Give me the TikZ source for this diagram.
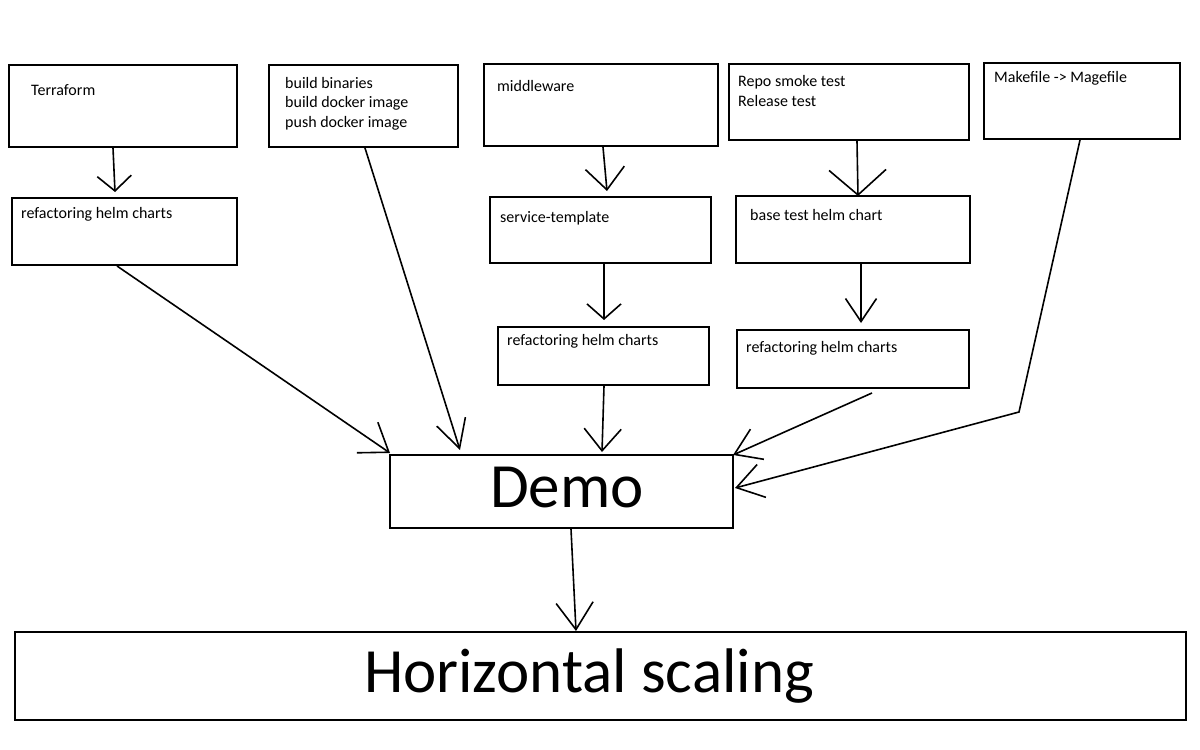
\documentclass[tikz,border=0pt]{standalone}
\usepackage{fontspec}
\setmainfont{Carlito}
\usetikzlibrary{arrows.meta,calc}
\begin{document}
\begin{tikzpicture}[x=1bp,y=-1bp,
  box/.style={draw, line width=2bp, rectangle, inner sep=0pt, anchor=north west},
  txt/.style={inner sep=0pt, anchor=base west, font=\fontsize{16bp}{19.5bp}\selectfont},
  bigtxt/.style={inner sep=0pt, anchor=base, font=\fontsize{63bp}{75bp}\selectfont},
  conn/.style={line width=1.6bp},
  vhead/.style 2 args={conn, -{Straight Barb[length=#1bp,width=#2bp]}}]
\fill[white] (0,0) rectangle (1200,750);
\useasboundingbox (0,0) rectangle (1200,750);

% boxes
\node[box, minimum width=228bp, minimum height=82bp] (t) at (8,64) {};
\node[box, minimum width=189bp, minimum height=82bp] (b) at (268,64) {};
\node[box, minimum width=234bp, minimum height=82bp] (m) at (483,63) {};
\node[box, minimum width=240bp, minimum height=76bp] (r) at (728,63) {};
\node[box, minimum width=196bp, minimum height=76bp] (mk) at (983,62) {};
\node[box, minimum width=225bp, minimum height=67bp] (rh1) at (11,197) {};
\node[box, minimum width=221bp, minimum height=66bp] (st) at (489,196) {};
\node[box, minimum width=234bp, minimum height=67bp] (bt) at (735,195) {};
\node[box, minimum width=211bp, minimum height=58bp] (rh2) at (497,326) {};
\node[box, minimum width=232bp, minimum height=58bp] (rh3) at (736,329) {};
\node[box, minimum width=343bp, minimum height=73bp] (d) at (389,454) {};
\node[box, minimum width=1171bp, minimum height=88bp] (hs) at (14,631) {};

% texts
\node[txt] (tt) at (31,96) {Terraform};
\node[txt] (b1) at (285,89) {build binaries};
\node[txt] (b2) at (285,108) {build docker image};
\node[txt] (b3) at (285,127) {push docker image};
\node[txt] (mt) at (497,92) {middleware};
\node[txt] (r1) at (738,87) {Repo smoke test};
\node[txt] (r2) at (738,107) {Release test};
\node[txt] (mkt) at (994,83) {Makefile -> Magefile};
\node[txt] (rh1t) at (21,218) {refactoring helm charts};
\node[txt] (stt) at (500,222) {service-template};
\node[txt] (btt) at (750,220) {base test helm chart};
\node[txt] (rh2t) at (507,345) {refactoring helm charts};
\node[txt] (rh3t) at (746,352) {refactoring helm charts};
\node[bigtxt] (dt) at (567,507) {Demo};
\node[bigtxt] (hst) at (589,692) {Horizontal scaling};

% connectors
\draw[vhead={15}{34}] ($(t.south west)+(105,0)$) -- ($(rh1.north west)+(104,-5)$);
\draw[vhead={28}{30}] ($(b.south west)+(97,0)$) -- ($(d.north west)+(71,-4)$);
\draw[vhead={26}{37}] ($(rh1.south west)+(106,0)$) -- ($(d.north west)+(1,-1)$);
\draw[vhead={22}{39}] ($(m.south west)+(120,0)$) -- ($(st.north west)+(118,-5)$);
\draw[vhead={15}{34}] ($(st.south west)+(115,0)$) -- ($(rh2.north west)+(107,-6)$);
\draw[vhead={22}{37}] ($(rh2.south west)+(107,0)$) -- ($(d.north west)+(213,-2)$);
\draw[vhead={25}{57}] ($(r.south west)+(129,0)$) -- ($(bt.north west)+(123,1)$);
\draw[vhead={23}{31}] ($(bt.south west)+(126,0)$) -- ($(rh3.north west)+(125,-6)$);
\draw[vhead={25}{33}] ($(rh3.south west)+(136,4)$) -- ($(d.north east)+(-1,1)$);
\coordinate (bend) at (1019,412);
\draw[vhead={26}{34}] ($(mk.south west)+(97,0)$) -- (bend) -- ($(d.north east)+(1,34)$);
\draw[vhead={27}{37}] ($(d.south west)+(182,0)$) -- ($(hs.north west)+(562,0)$);
\end{tikzpicture}
\end{document}
